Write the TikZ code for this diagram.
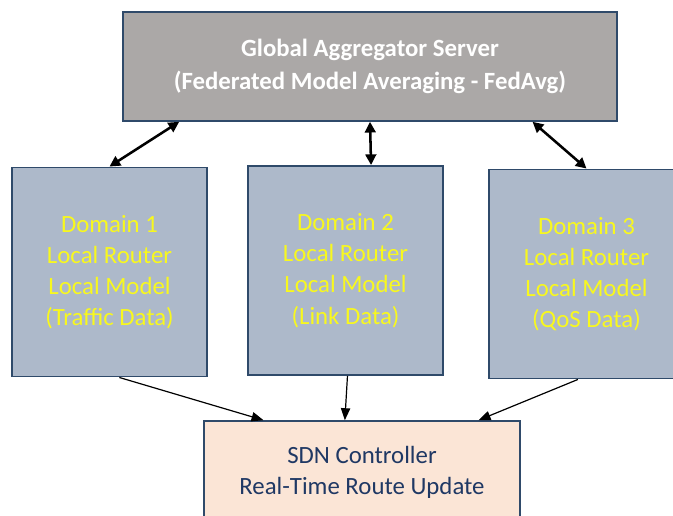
\documentclass[tikz,border=0pt]{standalone}
\usepackage{fontspec}
\setmainfont{Carlito}
\usetikzlibrary{arrows.meta,calc}
\definecolor{edgeblue}{HTML}{2F4A6A}
\definecolor{servergray}{HTML}{ABA8A7}
\definecolor{domainfill}{HTML}{ADB9CA}
\definecolor{domaintext}{HTML}{F8F81E}
\definecolor{ctrlfill}{HTML}{FBE5D6}
\definecolor{ctrltext}{HTML}{1F3864}
\tikzset{
  box/.style={draw=edgeblue, line width=1.2pt, inner sep=0pt, align=center,
    font=\fontsize{18.6}{23.4}\selectfont},
  serverbox/.style={box, fill=servergray, text=white,
    font=\fontsize{18.6}{24.8}\selectfont\bfseries,
    minimum width=370.5pt, minimum height=81.75pt},
  domainbox/.style={box, fill=domainfill, text=domaintext,
    minimum width=146.25pt, minimum height=157pt},
  ctrlbox/.style={box, fill=ctrlfill, text=ctrltext,
    minimum width=237pt, minimum height=76.5pt},
  sync/.style={line width=1.9pt, {Triangle[length=8pt,width=8pt]}-{Triangle[length=8pt,width=8pt]}},
  feed/.style={line width=0.9pt, -{Triangle[length=9pt,width=7pt]}}
}
\begin{document}
\begin{tikzpicture}[x=0.75pt,y=-0.75pt]
\useasboundingbox (0,0) rectangle (673,515);
\clip (0,0) rectangle (673,515);

% aggregation server
\node[serverbox] (srv) at (370,66.5)
  {Global Aggregator Server\\(Federated Model Averaging - FedAvg)};

% local domains
\node[domainbox] (d1) at (109.5,272)
  {Domain 1\\Local Router\\Local Model\\(Traffic Data)};
\node[domainbox] (d2) at (345.5,270.5)
  {Domain 2\\Local Router\\Local Model\\(Link Data)};
\node[domainbox] (d3) at (586.5,274)
  {Domain 3\\Local Router\\Local Model\\(QoS Data)};

% controller
\node[ctrlbox] (ctl) at (362,472)
  {SDN Controller\\Real-Time Route Update};

% model exchange with the server
\draw[sync] ($(srv.south west)!0.115!(srv.south east)$) -- (d1.north);
\draw[sync] (srv.south) -- ($(d2.north west)!0.63!(d2.north east)$);
\draw[sync] ($(srv.south west)!0.828!(srv.south east)$) -- (d3.north);

% route updates to the controller
\draw[feed] ($(d1.south west)!0.55!(d1.south east)$) -- ($(ctl.north west)!0.19!(ctl.north east)$);
\draw[feed] ($(d2.south west)!0.51!(d2.south east)$) -- ($(ctl.north west)!0.446!(ctl.north east)$);
\draw[feed] ($(d3.south west)!0.456!(d3.south east)$) -- ($(ctl.north west)!0.867!(ctl.north east)$);
\end{tikzpicture}
\end{document}
